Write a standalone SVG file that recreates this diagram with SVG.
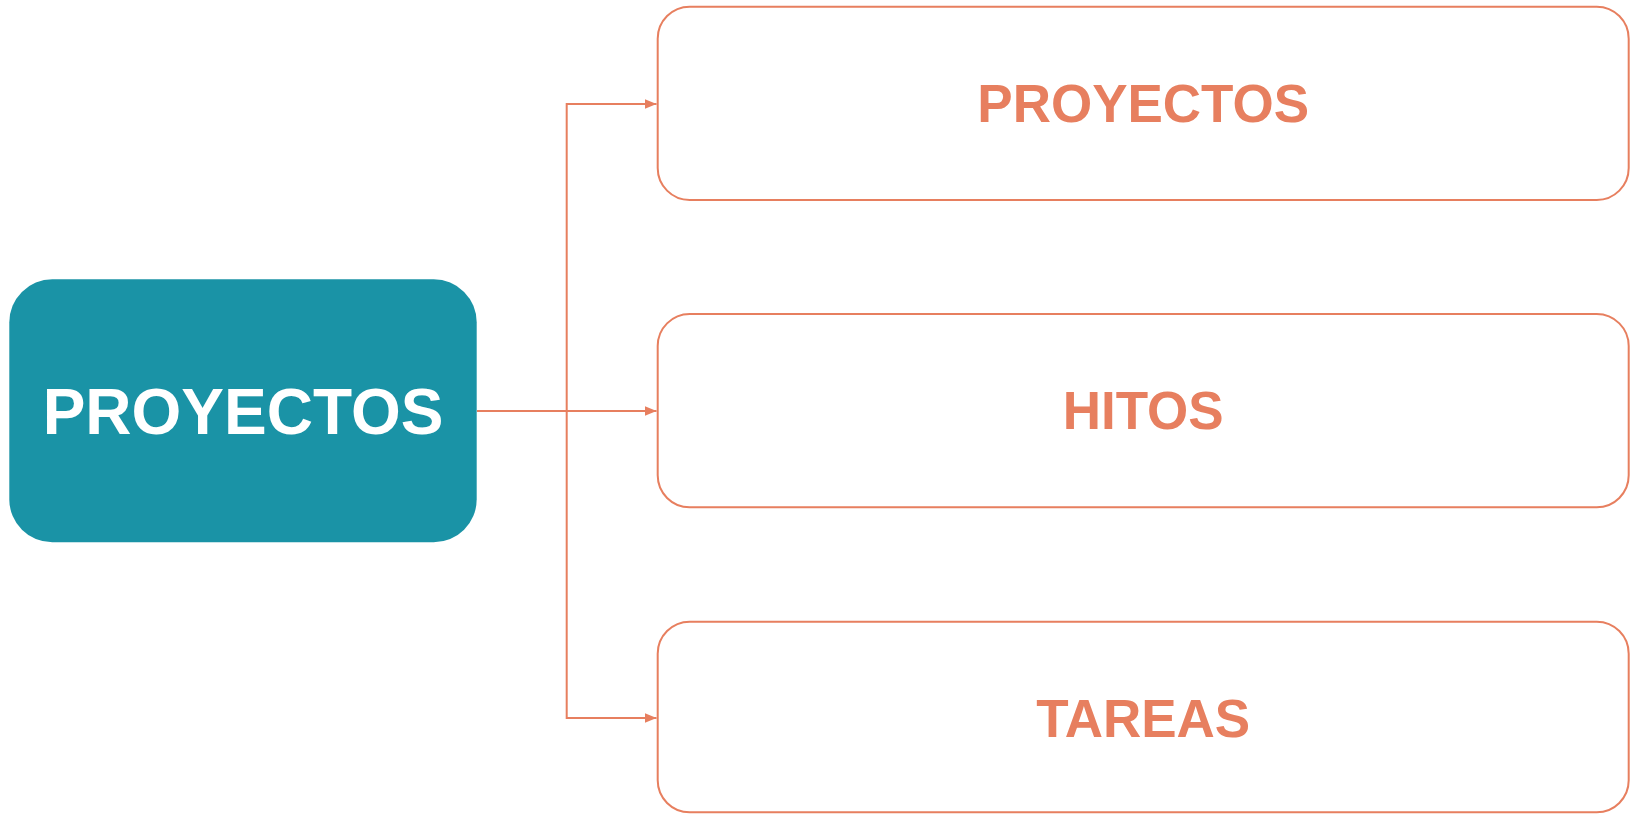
<svg xmlns="http://www.w3.org/2000/svg" width="1634" height="814" viewBox="0 0 1634 814">
  <style>
    .box { fill: #ffffff; stroke: #E77F5F; stroke-width: 2; }
    .lbl { font-family: "Liberation Sans", Arial, sans-serif; font-weight: bold; fill: #E77F5F; font-size: 53px; text-anchor: middle; }
    .conn { fill: none; stroke: #E77F5F; stroke-width: 2; }
  </style>
  <defs>
    <marker id="arr" viewBox="0 0 12 10" refX="12" refY="5" markerWidth="12" markerHeight="10" markerUnits="userSpaceOnUse" orient="auto">
      <path d="M0,0 L12,5 L0,10 Z" fill="#E77F5F"/>
    </marker>
  </defs>
  <rect width="1634" height="814" fill="#ffffff"/>
  <g id="connectors">
    <path class="conn" d="M477,411 L656.5,411" marker-end="url(#arr)"/>
    <path class="conn" d="M566.7,411 L566.7,104 L656.5,104" marker-end="url(#arr)"/>
    <path class="conn" d="M566.7,411 L566.7,718 L656.5,718" marker-end="url(#arr)"/>
  </g>
  <g id="root">
    <rect x="9.3" y="279.3" width="467.4" height="263" rx="43" ry="43" fill="#1A93A6"/>
    <text x="243" y="434.3" font-family="Liberation Sans, Arial, sans-serif" font-weight="bold" font-size="64" fill="#ffffff" text-anchor="middle">PROYECTOS</text>
  </g>
  <g id="node-proyectos">
    <rect class="box" x="657.7" y="6.7" width="971" height="193.3" rx="32" ry="32"/>
    <text class="lbl" x="1143.2" y="122.3">PROYECTOS</text>
  </g>
  <g id="node-hitos">
    <rect class="box" x="657.7" y="314" width="971" height="193.3" rx="32" ry="32"/>
    <text class="lbl" x="1143.2" y="429.3">HITOS</text>
  </g>
  <g id="node-tareas">
    <rect class="box" x="657.7" y="621.7" width="971" height="190.6" rx="32" ry="32"/>
    <text class="lbl" x="1143.2" y="736.7">TAREAS</text>
  </g>
</svg>
